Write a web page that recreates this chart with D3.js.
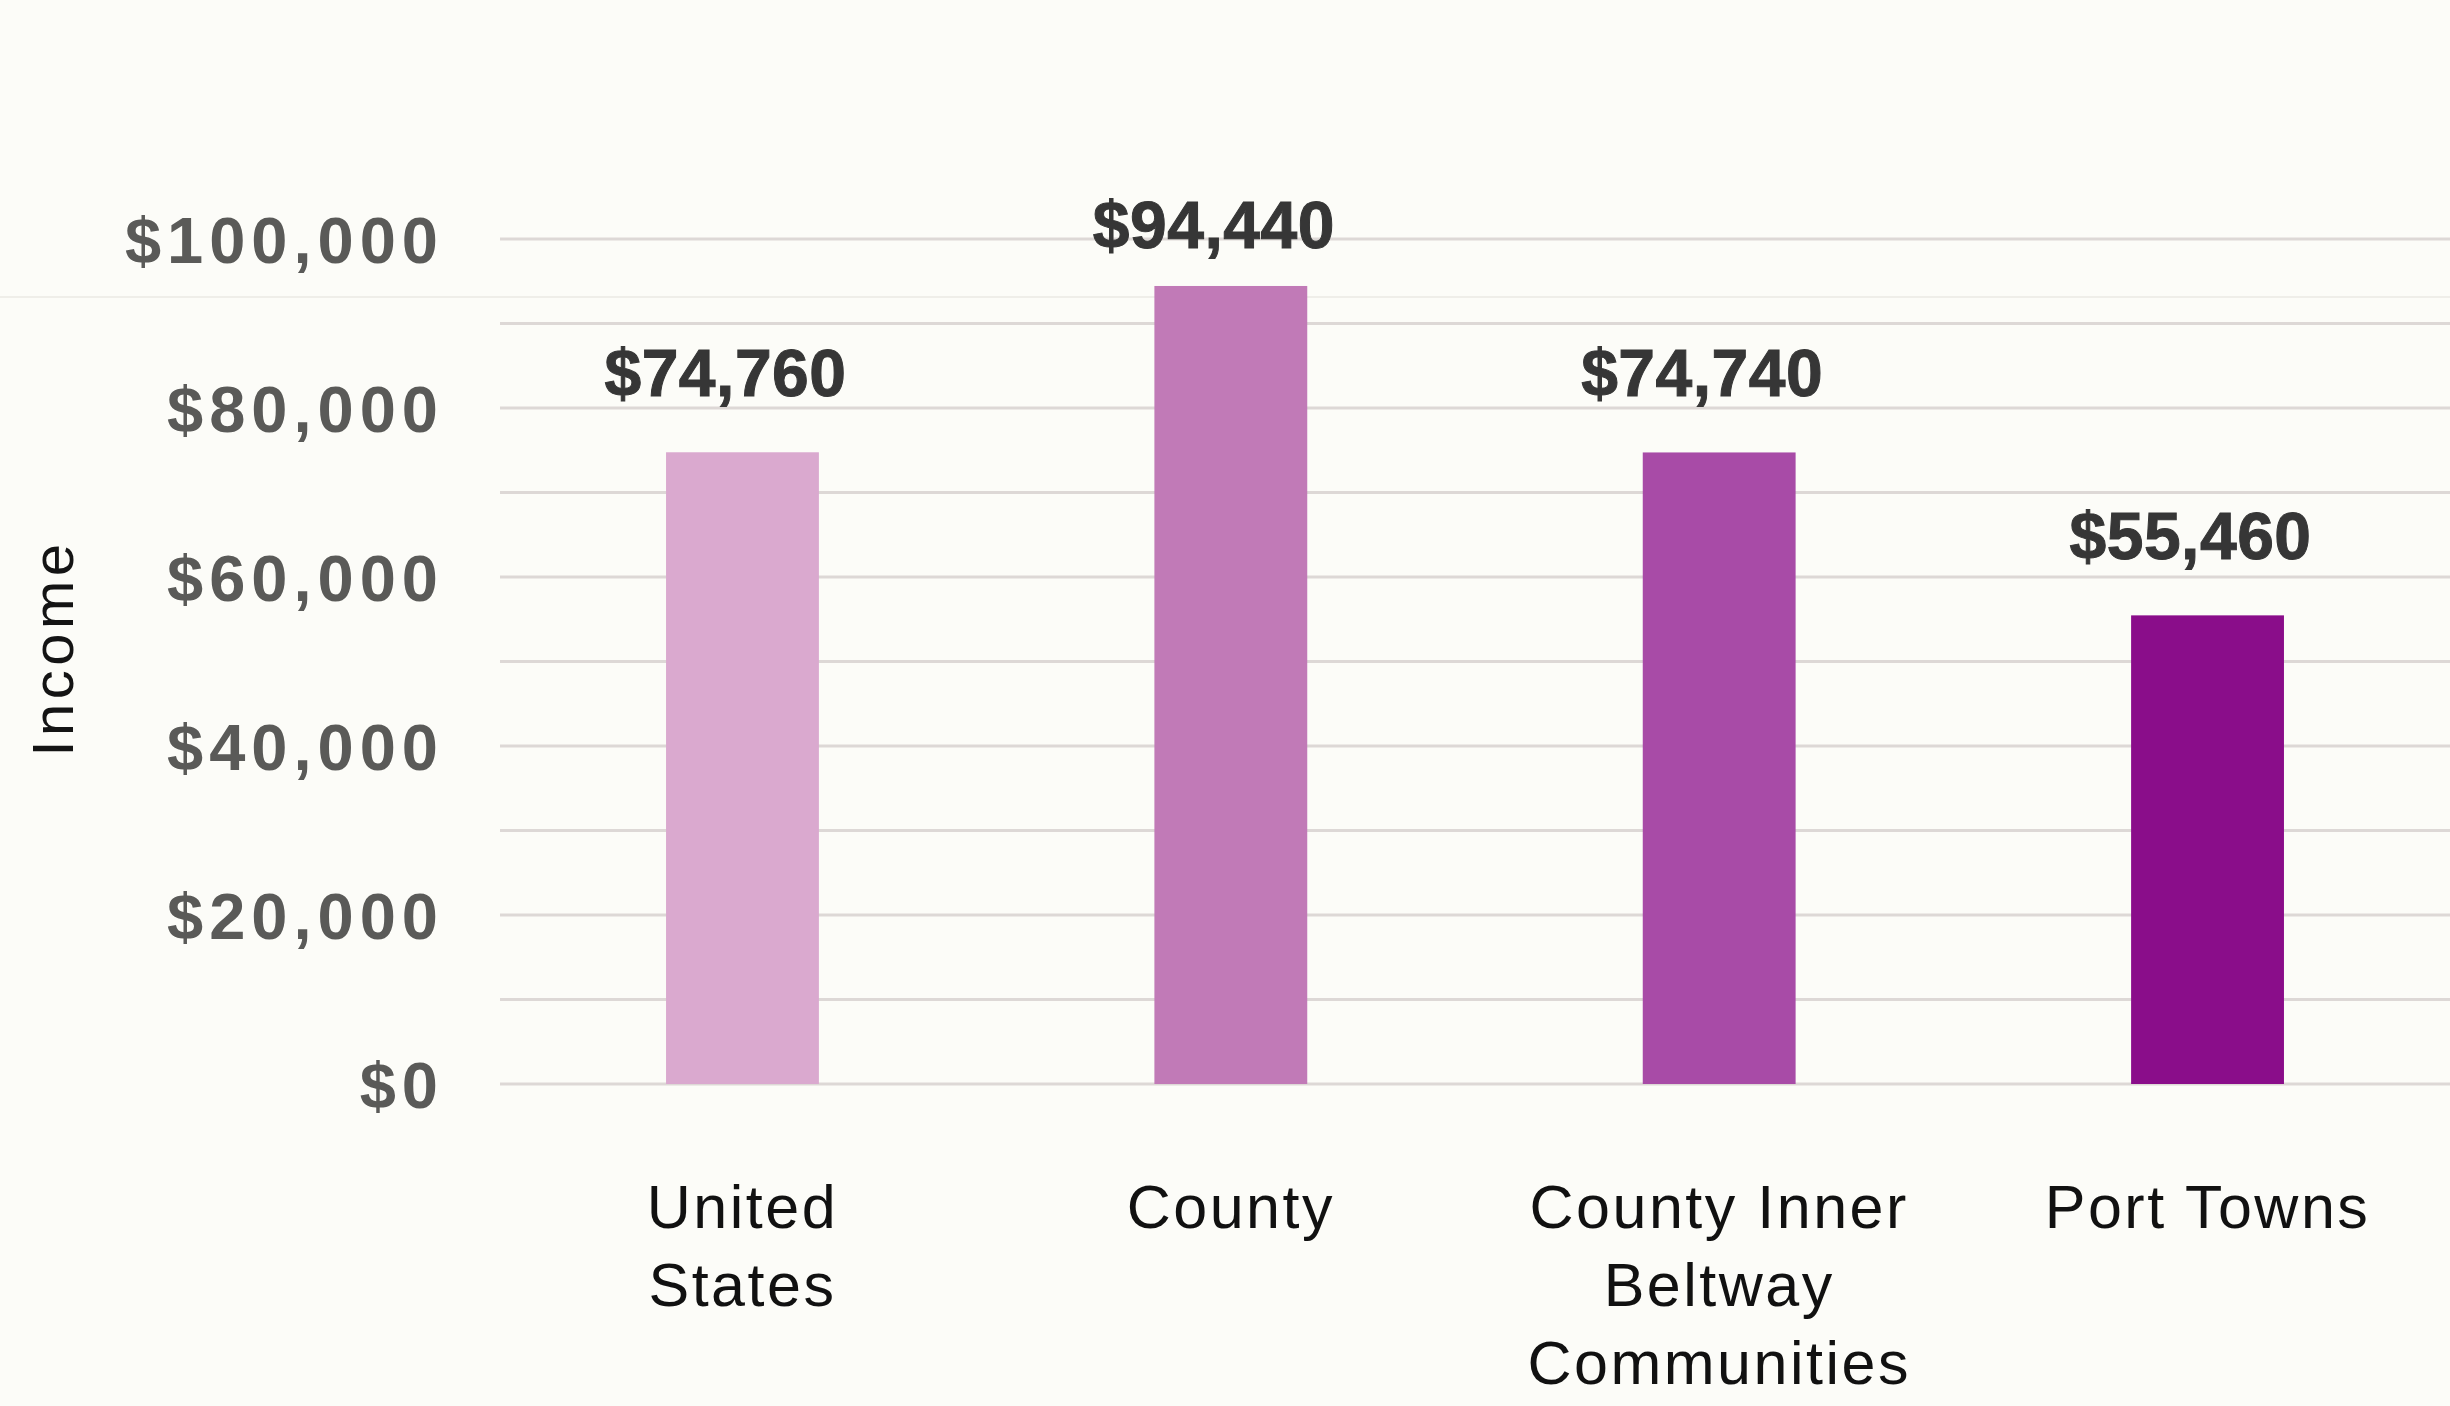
<!DOCTYPE html>
<html>
<head>
<meta charset="utf-8">
<script src="https://cdn.jsdelivr.net/npm/d3@7"></script>
<style>
  html, body { margin: 0; padding: 0; background: #fcfcf8; }
  svg { display: block; }
</style>
</head>
<body>
<svg id="chart" width="2450" height="1406"></svg>
<script>
// Median household income by area
const categories = ["United States", "County", "County Inner Beltway Communities", "Port Towns"];
const categoryLines = [["United", "States"], ["County"], ["County Inner", "Beltway", "Communities"], ["Port Towns"]];
const incomes = [74760, 94440, 74740, 55460];
const barColors = ["#daa9cf", "#c17ab7", "#a84ba7", "#8a0d8a"];
const tickValues = [0, 20000, 40000, 60000, 80000, 100000];
const gridValues = d3.range(0, 100001, 10000);
const axisTitle = "Income";

const W = 2450, H = 1406;
const svg = d3.select("#chart");

svg.append("rect").attr("width", W).attr("height", H).attr("fill", "#fcfcf8");

const x = d3.scaleBand()
  .domain(categories)
  .range([500, 2450])
  .paddingInner(0.687)
  .paddingOuter(0.34);

const y = d3.scaleLinear()
  .domain([0, 100000])
  .range([1084, 239]);

const money = v => "$" + d3.format(",")(v);

// faint fold line across the sheet
svg.append("line")
  .attr("x1", 0).attr("x2", W)
  .attr("y1", 297).attr("y2", 297)
  .attr("stroke", "#ebeae4").attr("stroke-width", 1.5);

// horizontal gridlines every 10,000
svg.append("g")
  .selectAll("line")
  .data(gridValues)
  .join("line")
  .attr("x1", 500).attr("x2", W)
  .attr("y1", d => y(d)).attr("y2", d => y(d))
  .attr("stroke", "#ddd8d6")
  .attr("stroke-width", 3);

// y-axis tick labels
const yAxis = d3.axisLeft(y).tickValues(tickValues).tickFormat(money).tickSize(0).tickPadding(0);
const gy = svg.append("g").attr("transform", "translate(444,0)").call(yAxis);
gy.select(".domain").remove();
gy.selectAll("text")
  .attr("dy", null)
  .attr("y", 23)
  .attr("font-family", "'Liberation Sans', Arial, sans-serif")
  .attr("font-weight", 700)
  .attr("font-size", 65)
  .attr("letter-spacing", 6)
  .attr("fill", "#5a5a58");

// axis title
svg.append("text")
  .attr("transform", "translate(73,648) rotate(-90)")
  .attr("text-anchor", "middle")
  .attr("font-family", "'Liberation Sans', Arial, sans-serif")
  .attr("font-size", 58)
  .attr("letter-spacing", 4.5)
  .attr("fill", "#141414")
  .text(axisTitle);

// bars
svg.append("g")
  .selectAll("rect")
  .data(categories)
  .join("rect")
  .attr("x", d => x(d))
  .attr("width", x.bandwidth())
  .attr("y", (d, i) => y(incomes[i]))
  .attr("height", (d, i) => y(0) - y(incomes[i]))
  .attr("fill", (d, i) => barColors[i]);

// value labels above bars, kept below the top of the plot
svg.append("g")
  .selectAll("text")
  .data(categories)
  .join("text")
  .attr("x", d => x(d) + x.bandwidth() / 2 - 17)
  .attr("y", (d, i) => Math.max(y(incomes[i]) - 56, 248))
  .attr("text-anchor", "middle")
  .attr("font-family", "'Liberation Sans', Arial, sans-serif")
  .attr("font-weight", 700)
  .attr("font-size", 66)
  .attr("letter-spacing", 0.5)
  .attr("stroke", "#363636")
  .attr("stroke-width", 1)
  .attr("fill", "#363636")
  .text((d, i) => money(incomes[i]));

// category labels
const cat = svg.append("g")
  .selectAll("text")
  .data(categories)
  .join("text")
  .attr("text-anchor", "middle")
  .attr("font-family", "'Liberation Sans', Arial, sans-serif")
  .attr("font-size", 61)
  .attr("letter-spacing", 2.5)
  .attr("fill", "#111111");

cat.each(function(d, i) {
  const t = d3.select(this);
  categoryLines[i].forEach((line, j) => {
    t.append("tspan")
      .attr("x", x(d) + x.bandwidth() / 2)
      .attr("y", 1228 + j * 78)
      .text(line);
  });
});
</script>
</body>
</html>
